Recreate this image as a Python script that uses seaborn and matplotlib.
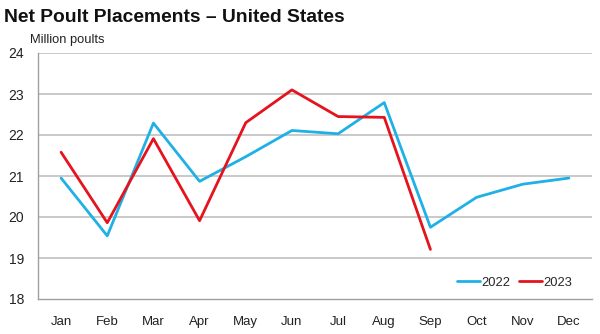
import matplotlib
matplotlib.use("Agg")
import matplotlib.pyplot as plt
import seaborn as sns
import pandas as pd

months = ["Jan", "Feb", "Mar", "Apr", "May", "Jun", "Jul", "Aug", "Sep", "Oct", "Nov", "Dec"]
y2022 = [20.95, 19.54, 22.29, 20.87, 21.47, 22.11, 22.03, 22.79, 19.75, 20.48, 20.80, 20.95]
y2023 = [21.58, 19.86, 21.91, 19.91, 22.30, 23.10, 22.45, 22.43, 19.21]
yticks = [18, 19, 20, 21, 22, 23, 24]

sns.set_theme(style="white")
plt.rcParams["font.family"] = ["Liberation Sans", "DejaVu Sans"]

df = pd.concat([
    pd.DataFrame({"month": months, "x": range(len(months)), "value": y2022, "year": "2022"}),
    pd.DataFrame({"month": months[:len(y2023)], "x": range(len(y2023)), "value": y2023, "year": "2023"}),
])

fig = plt.figure(figsize=(6, 3.34), dpi=100)
ax = fig.add_axes([38/600, 1-299/334, (592-38)/600, (299-53)/334])

for v in yticks[1:]:
    ax.axhline(v, color="#c0c0c0", lw=1.2, zorder=0)

sns.lineplot(data=df, x="x", y="value", hue="year",
             palette={"2022": "#1fb0e6", "2023": "#e5131d"},
             linewidth=2, ax=ax, sort=False)

ax.set_xlim(-0.5, 11.5)
ax.set_ylim(18, 24)
ax.set_xticks(range(len(months)))
ax.set_xticklabels(months, fontsize=9.5, color="#222222")
ax.set_yticks(yticks)
ax.set_yticklabels([str(v) for v in yticks], fontsize=10, color="#222222")
ax.set_xlabel("")
ax.set_ylabel("")
for s in ["top", "right"]:
    ax.spines[s].set_visible(False)
for s in ["left", "bottom"]:
    ax.spines[s].set_color("#a0a0a0")
    ax.spines[s].set_linewidth(1)
ax.tick_params(axis="both", which="both", direction="out", length=4, color="#a0a0a0", width=1, pad=6)
ax.tick_params(axis="x", pad=8)

leg = ax.legend(loc="lower right", ncol=2, frameon=False, fontsize=9.3,
                handlelength=1.8, handletextpad=0.1, columnspacing=0.7,
                bbox_to_anchor=(0.986, -0.005))

fig.text(4/600, 1-17/334, "Net Poult Placements \u2013 United States", fontsize=13.9,
         fontweight="bold", va="center", ha="left", color="#111111")
fig.text(30/600, 1-40/334, "Million poults", fontsize=9.3, va="center", ha="left", color="#222222")

fig.savefig("out.png", dpi=100)
